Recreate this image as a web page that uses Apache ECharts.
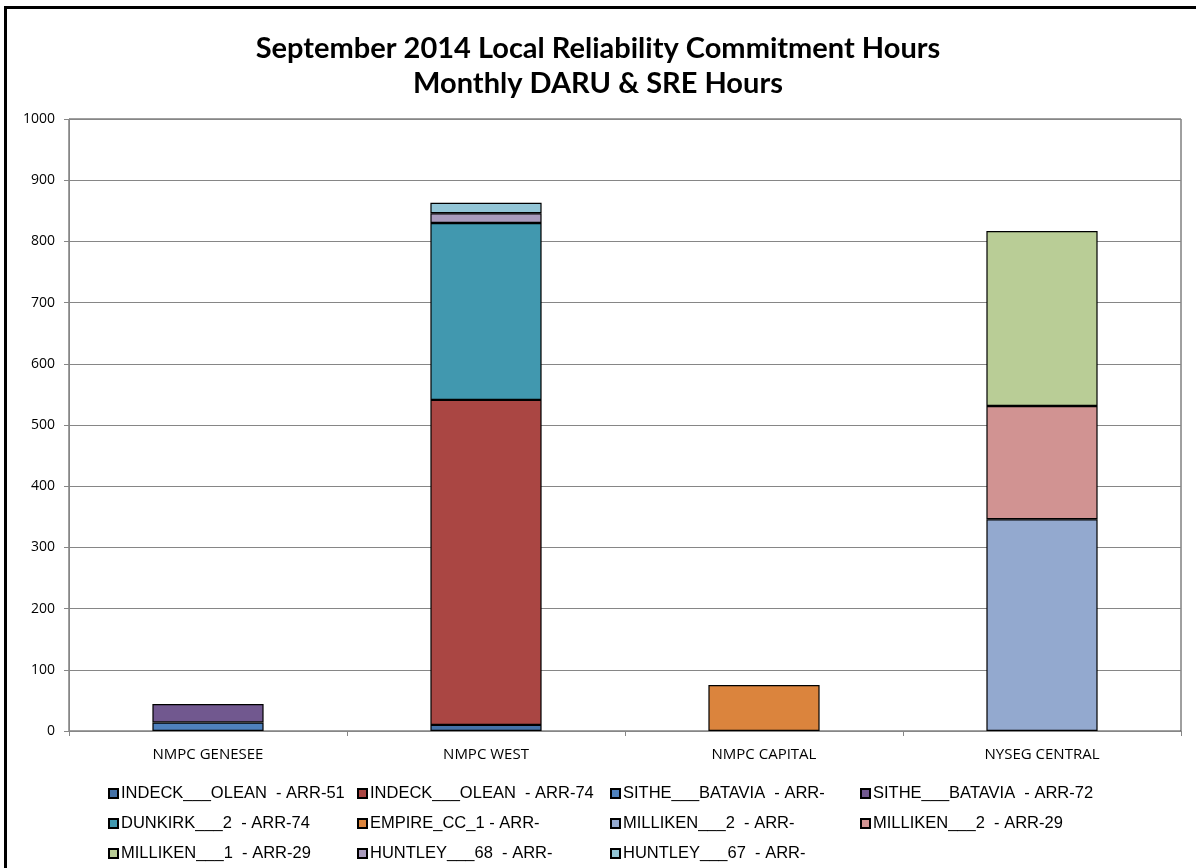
<!DOCTYPE html>
<html>
<head>
<meta charset="utf-8">
<script src="https://cdn.jsdelivr.net/npm/echarts@6/dist/echarts.min.js"></script>
<style>
  html, body { margin: 0; padding: 0; background: #fff; }
  #frame { position: absolute; left: 4px; top: 6px; width: 1200px; height: 870px; border: 3px solid #000; box-sizing: border-box; }
  #chart { position: absolute; left: 0; top: 0; width: 1196px; height: 868px; }
</style>
</head>
<body>
<div id="frame"></div>
<div id="chart"></div>
<script>
// regions along the x axis
var regions = ['NMPC GENESEE', 'NMPC WEST', 'NMPC CAPITAL', 'NYSEG CENTRAL'];

// hours per unit, one value per region
var indeckOlean51 = [0, 10, 0, 0];
var indeckOlean74 = [0, 531, 0, 0];
var sitheBatavia = [14, 0, 0, 0];
var sitheBatavia72 = [30, 0, 0, 0];
var dunkirk2 = [0, 289, 0, 0];
var empireCC1 = [0, 0, 75, 0];
var milliken2 = [0, 0, 0, 346];
var milliken2_29 = [0, 0, 0, 185];
var milliken1_29 = [0, 0, 0, 286];
var huntley68 = [0, 16, 0, 0];
var huntley67 = [0, 17, 0, 0];

var yTicks = [0, 100, 200, 300, 400, 500, 600, 700, 800, 900, 1000];

var units = [
  { name: 'INDECK___OLEAN  - ARR-51', data: indeckOlean51, color: '#4572A7' },
  { name: 'INDECK___OLEAN  - ARR-74', data: indeckOlean74, color: '#AA4643' },
  { name: 'SITHE___BATAVIA  - ARR-', data: sitheBatavia, color: '#4F81BD' },
  { name: 'SITHE___BATAVIA  - ARR-72', data: sitheBatavia72, color: '#71588F' },
  { name: 'DUNKIRK___2  - ARR-74', data: dunkirk2, color: '#4198AF' },
  { name: 'EMPIRE_CC_1 - ARR-', data: empireCC1, color: '#DB843D' },
  { name: 'MILLIKEN___2  - ARR-', data: milliken2, color: '#93A9CF' },
  { name: 'MILLIKEN___2  - ARR-29', data: milliken2_29, color: '#D19392' },
  { name: 'MILLIKEN___1  - ARR-29', data: milliken1_29, color: '#B9CD96' },
  { name: 'HUNTLEY___68  - ARR-', data: huntley68, color: '#A99BBD' },
  { name: 'HUNTLEY___67  - ARR-', data: huntley67, color: '#92C5D6' }
];

var series = units.map(function (u) {
  return {
    name: u.name,
    type: 'bar',
    stack: 'hours',
    barWidth: '40%',
    data: u.data.map(function (v) { return v === 0 ? null : v; }),
    itemStyle: { color: u.color, borderColor: '#000', borderWidth: 1.2 },
    emphasis: { disabled: true }
  };
});

// legend is laid out as 4 columns, one vertical legend per column
var legendCols = [108, 357, 610, 860];
var legends = legendCols.map(function (x, c) {
  return {
    orient: 'vertical',
    left: x,
    top: 785,
    padding: 0,
    itemWidth: 9,
    itemHeight: 9,
    itemGap: 13,
    icon: 'rect',
    textStyle: { fontFamily: 'Liberation Sans', fontSize: 16.5, color: '#000', padding: [0, 0, 0, -2] },
    data: units.filter(function (u, i) { return i % 4 === c; }).map(function (u) { return u.name; })
  };
});

var chart = echarts.init(document.getElementById('chart'), null, { renderer: 'canvas' });
chart.setOption({
  animation: false,
  title: {
    text: 'September 2014 Local Reliability Commitment Hours\nMonthly DARU & SRE Hours',
    left: 'center',
    top: 26,
    textStyle: { fontFamily: 'Lato', fontWeight: 'bold', fontSize: 29, lineHeight: 35, color: '#000' }
  },
  legend: legends,
  grid: {
    left: 69, right: 15, top: 119, bottom: 137,
    show: true, borderColor: '#404040', borderWidth: 1
  },
  xAxis: {
    type: 'category',
    data: regions,
    axisLine: { lineStyle: { color: '#868686' } },
    axisTick: { show: true, alignWithLabel: false, length: 5, lineStyle: { color: '#868686' } },
    axisLabel: { fontFamily: 'Open Sans', fontSize: 15, color: '#000', margin: 16 }
  },
  yAxis: {
    type: 'value',
    min: 0, max: 1000, interval: 100,
    axisLine: { show: true, lineStyle: { color: '#868686' } },
    axisTick: { show: true, length: 5, inside: false, lineStyle: { color: '#868686' } },
    splitLine: { lineStyle: { color: '#868686' } },
    axisLabel: {
      fontFamily: 'Open Sans', fontSize: 14, color: '#000', margin: 14,
      formatter: function (v) { return yTicks.indexOf(v) >= 0 ? String(v) : ''; }
    }
  },
  series: series
});
</script>
</body>
</html>
